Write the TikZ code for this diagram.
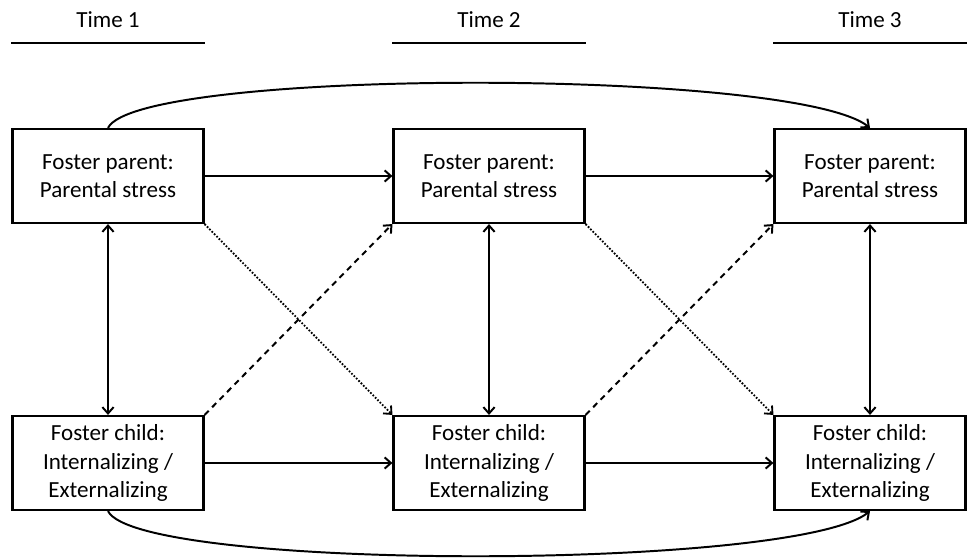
\documentclass[tikz,border=0pt]{standalone}
\usepackage{fontspec}
\setmainfont{Carlito}
\usetikzlibrary{arrows.meta}

\begin{document}
\begin{tikzpicture}[x=0.025cm, y=-0.025cm,
    box/.style={draw, line width=1.5pt, minimum width=4.775cm, minimum height=2.35cm,
      inner sep=0pt, align=center, font=\fontsize{16.4}{20.3}\selectfont},
    timelabel/.style={anchor=base, inner sep=0pt, font=\fontsize{16.4}{20.3}\selectfont},
    bar/.style={line width=1.9pt},
    link/.style={line width=1.4pt, -{Straight Barb[length=4.5pt, width=8pt]}},
    both/.style={link, {Straight Barb[length=4.5pt, width=8pt]}-{Straight Barb[length=4.5pt, width=8pt]}},
    cross/.style={link, dash pattern=on 4.2pt off 3.4pt},
    lag/.style={link, line width=1.3pt, dash pattern=on 1.2pt off 1.2pt}]
  \useasboundingbox (0,0) rectangle (968,558);
  % one column per wave: #1 = wave, #2 = x-coordinate of its center
  \foreach \n/\x in {1/108, 2/489, 3/870} {
    \node[timelabel] (time\n) at (\x,28) {Time \n};
    \draw[bar] (\x-97,43) -- (\x+97,43);
    \node[box] (pp\n) at (\x,176) {Foster parent:\\Parental stress};
    \node[box] (fc\n) at (\x,463) {Foster child:\\Internalizing /\\Externalizing};
    \draw[both] (pp\n) -- (fc\n);
  }

  % stability paths
  \draw[link] (pp1) -- (pp2);
  \draw[link] (pp2) -- (pp3);
  \draw[link] (fc1) -- (fc2);
  \draw[link] (fc2) -- (fc3);
  \draw[link] (pp1.north) .. controls +(30,-60) and +(-75,-60) .. (pp3.north);
  \draw[link] (fc1.south) .. controls +(30,60) and +(-75,60) .. (fc3.south);

  % cross-lagged paths: parent -> child dotted, child -> parent dashed
  \draw[lag] (pp1.south east) -- (fc2.north west);
  \draw[lag] (pp2.south east) -- (fc3.north west);
  \draw[cross] (fc1.north east) -- (pp2.south west);
  \draw[cross] (fc2.north east) -- (pp3.south west);
\end{tikzpicture}
\end{document}
